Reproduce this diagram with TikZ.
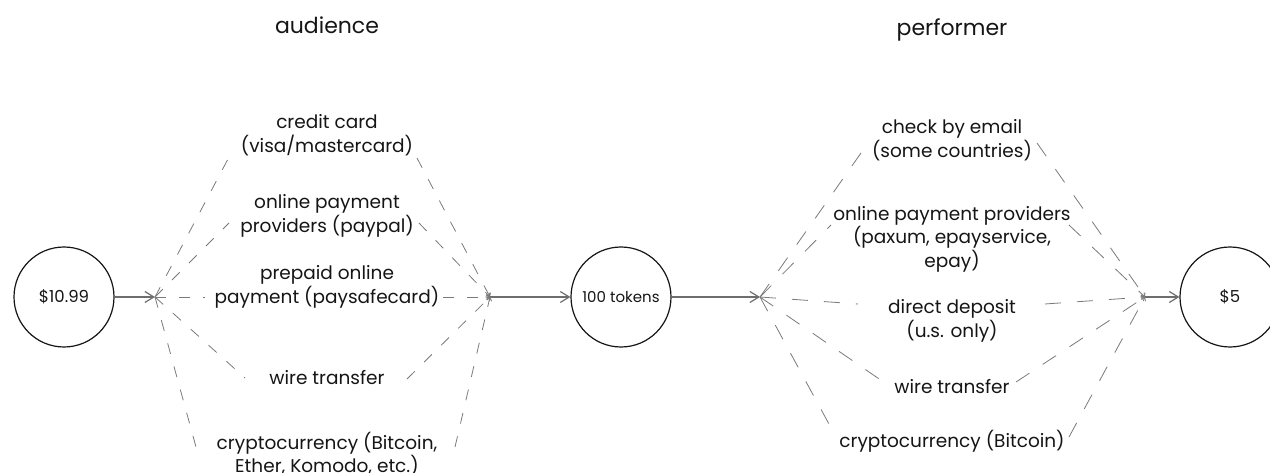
\documentclass[tikz,border=0pt]{standalone}
\usepackage{fontspec}
\setmainfont{Poppins}
\usetikzlibrary{arrows.meta,calc}
\definecolor{edgegray}{HTML}{6E6E6E}
\definecolor{dashgray}{HTML}{7A7A7A}
\definecolor{ink}{HTML}{151515}
\tikzset{
  lbl/.style={align=center, inner sep=0pt, text=ink, font=\fontsize{18.5}{23.5}\selectfont},
  ttl/.style={inner sep=0pt, text=ink, font=\fontsize{22}{26}\selectfont},
  money/.style={circle, draw=ink, line width=1.2pt, minimum size=100pt, inner sep=0pt, text=ink},
  flow/.style={draw=edgegray, line width=1.4pt, -{Straight Barb[length=9pt,width=11pt,line width=1.2pt]}},
  dashL/.style={draw=dashgray, line width=0.8pt, dash pattern=on 11pt off 13pt},
  dashR/.style={draw=dashgray, line width=0.8pt, dash pattern=on 16pt off 16pt},
  into/.style={-{Straight Barb[length=3pt,width=5pt,line width=0.8pt]}},
  junc/.style={coordinate}
}
\begin{document}
\begin{tikzpicture}[x=1pt,y=-1pt]
\useasboundingbox (0,0) rectangle (1270,473);

% titles
\node[ttl] (aud) at (327,25) {audience};
\node[ttl] (perf) at (952,30) {performer};

% money circles
\node[money, font=\fontsize{16.5}{18}\selectfont] (m1) at (64,297) {\$10.99};
\node[money, font=\fontsize{15}{18}\selectfont] (m2) at (621,297) {100 tokens};
\node[money, font=\fontsize{16.5}{18}\selectfont] (m3) at (1230,297) {\$5};

% junctions
\node[junc] (j1) at (155,297) {};
\node[junc] (j2) at (490,297) {};
\node[junc] (j3) at (760,297) {};
\node[junc] (j4) at (1145,297) {};

% left column
\node[lbl] (cc) at (327,135) {credit card\\(visa/mastercard)};
\node[lbl] (pp) at (327,216) {online payment\\providers (paypal)};
\node[lbl] (pre) at (327,287) {prepaid online\\payment (paysafecard)};
\node[lbl] (wa) at (327,378) {wire transfer};
\node[lbl] (ca) at (327,454) {cryptocurrency (Bitcoin,\\Ether, Komodo, etc.)};

% right column
\node[lbl] (ce) at (952,140) {check by email\\(some countries)};
\node[lbl] (op) at (952,239) {online payment providers\\(paxum, epayservice,\\epay)};
\node[lbl] (dd) at (952,321) {direct deposit\\(u.s. only)};
\node[lbl] (wp) at (952,387) {wire transfer};
\node[lbl] (cp) at (952,441) {cryptocurrency (Bitcoin)};

% solid flow
\draw[flow] (m1) -- (j1);
\draw[flow] (j2) -- (m2);
\draw[flow] (m2) -- (j3);
\draw[flow] (j4) -- (m3);

% left fan out / in
\draw[dashL] (j1) -- ($(cc)+(-99,24)$);
\draw[dashL] (j1) -- ($(pp)+(-98,7)$);
\draw[dashL] (j1) -- ($(pre)+(-122,10)$);
\draw[dashL] (j1) -- ($(wa)+(-82,0)$);
\draw[dashL] (j1) -- ($(ca)+(-131,-7)$);
\draw[dashL,into] ($(cc)+(90,23)$) -- (j2);
\draw[dashL,into] ($(pp)+(92,7)$) -- (j2);
\draw[dashL,into] ($(pre)+(116,10)$) -- (j2);
\draw[dashL,into] ($(wa)+(80,1)$) -- (j2);
\draw[dashL,into] ($(ca)+(128,-7)$) -- (j2);

% right fan out / in
\draw[dashR] (j3) -- ($(ce)+(-84,3)$);
\draw[dashR] (j3) -- ($(op)+(-121,-14)$);
\draw[dashR] (j3) -- ($(dd)+(-94,-17)$);
\draw[dashR] (j3) -- ($(wp)+(-67,-4)$);
\draw[dashR] (j3) -- ($(cp)+(-116,-4)$);
\draw[dashR,into] ($(ce)+(85,3)$) -- (j4);
\draw[dashR,into] ($(op)+(117,-14)$) -- (j4);
\draw[dashR,into] ($(dd)+(93,-17)$) -- (j4);
\draw[dashR,into] ($(wp)+(64,-5)$) -- (j4);
\draw[dashR,into] ($(cp)+(117,-4)$) -- (j4);
\end{tikzpicture}
\end{document}
